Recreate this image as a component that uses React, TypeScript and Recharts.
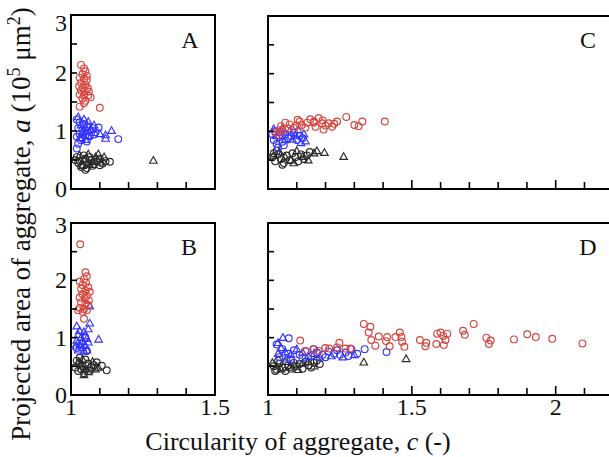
import { ReferenceArea, Scatter, ScatterChart, XAxis, YAxis } from "recharts";

type Pt = [number, number];

// circularity c, projected area a (x10^5 um^2)
const A_RED_CIRC: Pt[] = [
  [1.035, 2.14], [1.045, 2.08], [1.05, 2.03], [1.04, 1.98], [1.055, 1.95],
  [1.03, 1.92], [1.045, 1.9], [1.055, 1.88], [1.035, 1.83], [1.05, 1.8],
  [1.028, 1.77], [1.042, 1.75], [1.058, 1.74], [1.035, 1.7], [1.048, 1.69],
  [1.062, 1.68], [1.03, 1.63], [1.045, 1.62], [1.06, 1.61], [1.068, 1.58],
  [1.04, 1.56], [1.05, 1.52], [1.045, 1.48], [1.03, 1.42], [1.1, 1.4],
];
const A_BLUE_CIRC: Pt[] = [
  [1.02, 1.2], [1.03, 1.15], [1.045, 1.12], [1.06, 1.08], [1.025, 1.05],
  [1.04, 1.02], [1.055, 1.0], [1.07, 0.98], [1.03, 0.95], [1.05, 0.93],
  [1.065, 0.91], [1.02, 0.9], [1.04, 0.88], [1.08, 0.94], [1.035, 0.84],
  [1.055, 0.82], [1.025, 0.78], [1.02, 0.7], [1.096, 1.06], [1.085, 0.98],
  [1.164, 0.86], [1.075, 1.05], [1.045, 0.97],
];
const A_BLUE_TRI: Pt[] = [
  [1.025, 1.24], [1.045, 1.2], [1.06, 1.16], [1.035, 1.1], [1.05, 1.06],
  [1.07, 1.02], [1.04, 0.98], [1.06, 0.92], [1.03, 0.88], [1.05, 0.85],
  [1.141, 1.005], [1.12, 0.93], [1.12, 0.87], [1.1, 0.95], [1.08, 1.1],
];
const A_BLACK_CIRC: Pt[] = [
  [1.02, 0.55], [1.03, 0.48], [1.04, 0.42], [1.05, 0.52], [1.06, 0.45],
  [1.035, 0.38], [1.055, 0.36], [1.07, 0.5], [1.08, 0.43], [1.045, 0.58],
  [1.025, 0.45], [1.09, 0.47], [1.1, 0.52], [1.11, 0.44], [1.12, 0.48],
  [1.135, 0.47], [1.065, 0.55], [1.075, 0.4], [1.015, 0.5], [1.1, 0.41],
  [1.05, 0.33],
];
const A_BLACK_TRI: Pt[] = [
  [1.03, 0.58], [1.045, 0.5], [1.06, 0.6], [1.075, 0.47], [1.085, 0.55],
  [1.095, 0.6], [1.105, 0.46], [1.04, 0.4], [1.065, 0.42], [1.115, 0.55],
  [1.286, 0.49],
];

const B_RED_CIRC: Pt[] = [
  [1.032, 2.63], [1.05, 2.14], [1.055, 2.07], [1.045, 2.02], [1.03, 1.98],
  [1.052, 1.96], [1.04, 1.92], [1.06, 1.88], [1.035, 1.85], [1.05, 1.82],
  [1.065, 1.8], [1.04, 1.76], [1.055, 1.73], [1.03, 1.7], [1.048, 1.68],
  [1.062, 1.65], [1.035, 1.62], [1.05, 1.59], [1.06, 1.56], [1.03, 1.52],
  [1.045, 1.5], [1.025, 1.48], [1.055, 1.48], [1.04, 1.45], [1.045, 1.33],
];
const B_BLUE_CIRC: Pt[] = [[1.03, 0.9], [1.05, 1.0], [1.02, 0.82]];
const B_BLUE_TRI: Pt[] = [
  [1.02, 1.2], [1.065, 1.25], [1.06, 1.15], [1.03, 1.12], [1.045, 1.1],
  [1.025, 1.05], [1.05, 1.03], [1.035, 1.0], [1.055, 0.98], [1.02, 0.95],
  [1.04, 0.93], [1.06, 0.92], [1.03, 0.88], [1.05, 0.86], [1.015, 0.85],
  [1.04, 0.82], [1.025, 0.78], [1.055, 0.78], [1.045, 0.76], [1.096, 0.97],
  [1.065, 1.55],
];
const B_BLACK_CIRC: Pt[] = [
  [1.02, 0.6], [1.03, 0.55], [1.04, 0.5], [1.05, 0.62], [1.035, 0.45],
  [1.025, 0.42], [1.045, 0.38], [1.06, 0.55], [1.07, 0.48], [1.08, 0.52],
  [1.089, 0.57], [1.107, 0.51], [1.124, 0.43], [1.055, 0.77], [1.03, 0.65],
  [1.015, 0.48], [1.065, 0.42],
];
const B_BLACK_TRI: Pt[] = [
  [1.025, 0.57], [1.04, 0.62], [1.05, 0.45], [1.06, 0.4], [1.035, 0.52],
  [1.075, 0.58], [1.085, 0.45], [1.045, 0.35], [1.065, 0.5], [1.095, 0.48],
];

const C_RED_CIRC: Pt[] = [
  [1.045, 1.09], [1.06, 1.15], [1.075, 1.12], [1.089, 1.06], [1.103, 1.2],
  [1.118, 1.11], [1.136, 1.15], [1.147, 1.21], [1.159, 1.15], [1.165, 1.08],
  [1.176, 1.23], [1.188, 1.14], [1.193, 1.03], [1.211, 1.14], [1.223, 1.08],
  [1.24, 1.17], [1.272, 1.25], [1.3, 1.11], [1.315, 1.09], [1.328, 1.17],
  [1.406, 1.17], [1.037, 0.94], [1.05, 1.02], [1.07, 1.05], [1.1, 1.1],
  [1.13, 1.06], [1.16, 1.17], [1.2, 1.1], [1.23, 1.13], [1.19, 1.19],
  [1.11, 1.17], [1.025, 0.98], [1.04, 1.02],
];
const C_BLUE_CIRC: Pt[] = [
  [1.015, 0.95], [1.02, 0.85], [1.03, 0.78], [1.04, 0.9], [1.05, 0.82],
  [1.06, 0.95], [1.07, 0.88], [1.08, 0.92], [1.09, 0.98], [1.1, 0.85],
  [1.11, 0.92], [1.025, 1.0], [1.035, 0.72], [1.055, 0.76], [1.12, 0.88],
];
const C_BLUE_TRI: Pt[] = [
  [1.02, 1.04], [1.03, 0.92], [1.045, 0.98], [1.06, 0.85], [1.075, 1.0],
  [1.085, 0.86], [1.095, 0.93], [1.105, 1.02], [1.115, 0.8], [1.125, 0.95],
  [1.13, 0.83], [1.05, 1.05],
];
const C_BLACK_CIRC: Pt[] = [
  [1.015, 0.55], [1.025, 0.48], [1.035, 0.6], [1.045, 0.52], [1.055, 0.45],
  [1.065, 0.58], [1.075, 0.5], [1.085, 0.62], [1.095, 0.55], [1.105, 0.48],
  [1.115, 0.6], [1.125, 0.52], [1.135, 0.58], [1.05, 0.42], [1.03, 0.66],
  [1.145, 0.64], [1.02, 0.62],
];
const C_BLACK_TRI: Pt[] = [
  [1.02, 0.58], [1.04, 0.64], [1.06, 0.55], [1.08, 0.5], [1.1, 0.66],
  [1.12, 0.56], [1.14, 0.5], [1.16, 0.62], [1.17, 0.66], [1.09, 0.45],
  [1.196, 0.63], [1.263, 0.56],
];

const D_RED_CIRC: Pt[] = [
  [1.112, 0.95], [1.13, 0.77], [1.157, 0.8], [1.176, 0.77], [1.199, 0.82],
  [1.213, 0.81], [1.24, 0.83], [1.248, 0.91], [1.269, 0.81], [1.286, 0.81],
  [1.333, 1.24], [1.356, 1.19], [1.35, 1.09], [1.359, 0.96], [1.373, 0.86],
  [1.385, 1.02], [1.414, 1.01], [1.423, 0.85], [1.41, 0.94], [1.443, 1.01],
  [1.458, 1.09], [1.464, 1.01], [1.466, 0.93], [1.474, 0.84], [1.528, 0.96],
  [1.55, 0.91], [1.547, 0.85], [1.585, 0.89], [1.588, 1.07], [1.6, 1.09],
  [1.609, 1.03], [1.617, 0.96], [1.611, 0.87], [1.623, 1.07], [1.678, 1.12],
  [1.684, 1.05], [1.715, 1.24], [1.759, 1.0], [1.774, 0.95], [1.768, 0.89],
  [1.855, 0.97], [1.901, 1.06], [1.931, 1.01], [1.988, 0.98], [2.093, 0.9],
];
const D_BLUE_CIRC: Pt[] = [
  [1.072, 0.99], [1.03, 0.88], [1.05, 0.8], [1.07, 0.72], [1.09, 0.78],
  [1.11, 0.7], [1.13, 0.76], [1.15, 0.68], [1.17, 0.74], [1.19, 0.7],
  [1.21, 0.76], [1.23, 0.72], [1.25, 0.7], [1.27, 0.74], [1.29, 0.8],
  [1.31, 0.72], [1.336, 0.8], [1.412, 0.75], [1.04, 0.66], [1.08, 0.62],
  [1.12, 0.64], [1.16, 0.8], [1.2, 0.66], [1.24, 0.78], [1.28, 0.68],
];
const D_BLUE_TRI: Pt[] = [
  [1.052, 1.0], [1.035, 0.91], [1.045, 0.82], [1.06, 0.75], [1.08, 0.7],
  [1.1, 0.8], [1.12, 0.74], [1.14, 0.68], [1.16, 0.72], [1.18, 0.66],
  [1.22, 0.68], [1.26, 0.66], [1.3, 0.7], [1.035, 0.72], [1.065, 0.64],
];
const D_BLACK_CIRC: Pt[] = [
  [1.02, 0.5], [1.03, 0.44], [1.04, 0.55], [1.05, 0.48], [1.06, 0.42],
  [1.07, 0.52], [1.08, 0.46], [1.09, 0.56], [1.1, 0.5], [1.11, 0.54],
  [1.12, 0.46], [1.13, 0.58], [1.14, 0.52], [1.15, 0.48], [1.16, 0.56],
  [1.17, 0.6], [1.035, 0.6], [1.025, 0.42], [1.18, 0.54],
];
const D_BLACK_TRI: Pt[] = [
  [1.015, 0.56], [1.03, 0.5], [1.045, 0.45], [1.06, 0.58], [1.075, 0.48],
  [1.09, 0.52], [1.105, 0.44], [1.12, 0.55], [1.14, 0.58], [1.16, 0.5],
  [1.333, 0.57], [1.48, 0.63],
];

const Y_TICKS = [0, 0.5, 1, 1.5, 2, 2.5, 3];
const X_TICKS_NARROW = [1, 1.1, 1.2, 1.3, 1.4, 1.5];
const X_TICKS_WIDE = [1, 1.1, 1.2, 1.3, 1.4, 1.5, 1.6, 1.7, 1.8, 1.9, 2, 2.1, 2.2, 2.3];

const RED = "#d8433c";
const BLUE = "#3434ff";
const BLACK = "#2a2a2a";
const FONT = "'Liberation Serif', 'Times New Roman', serif";

const toRows = (pts: Pt[]) => pts.map(([c, a]) => ({ c, a }));

const isMajor = (v: number) => Math.abs(v * 2 - Math.round(v * 2)) < 1e-6;

function circleShape(color: string) {
  return (p: any) => (
    <circle cx={p.cx} cy={p.cy} r={3.4} fill="none" stroke={color} strokeWidth={1.15} />
  );
}

function triangleShape(color: string) {
  return (p: any) => (
    <path
      d={`M${p.cx},${p.cy - 4}L${p.cx + 3.8},${p.cy + 2.7}L${p.cx - 3.8},${p.cy + 2.7}Z`}
      fill="none"
      stroke={color}
      strokeWidth={1.15}
    />
  );
}

function XTick({ x, y, payload, showLabel }: any) {
  const v = payload?.value as number;
  const major = isMajor(v);
  return (
    <g>
      <line x1={x} x2={x} y1={y} y2={y - (major ? 9 : 7)} stroke="#000" strokeWidth={1.6} />
      {showLabel && major && (
        <text x={x} y={y + 20} textAnchor="middle" fontSize={24} fontFamily={FONT} fill="#111">
          {String(v)}
        </text>
      )}
    </g>
  );
}

function YTick({ x, y, payload, showLabel, topPanel }: any) {
  const v = payload?.value as number;
  const label = Number.isInteger(v);
  const base = v === 3 ? (topPanel ? y + 16 : y + 10) : y + 8;
  return (
    <g>
      <line x1={x} x2={x + 6} y1={y} y2={y} stroke="#000" strokeWidth={1.6} />
      {showLabel && label && (
        <text x={x - 4} y={base} textAnchor="end" fontSize={24} fontFamily={FONT} fill="#111">
          {String(v)}
        </text>
      )}
    </g>
  );
}

interface SeriesDef {
  pts: Pt[];
  color: string;
  tri?: boolean;
}

interface PanelProps {
  left: number;
  top: number;
  width: number;
  height: number;
  marginTop: number;
  marginRight: number;
  yWidth: number;
  xHeight: number;
  xMax: number;
  xTicks: number[];
  series: SeriesDef[];
  showX: boolean;
  showY: boolean;
  topPanel: boolean;
}

function Panel(p: PanelProps) {
  return (
    <div style={{ position: "absolute", left: p.left, top: p.top }}>
      <ScatterChart
        width={p.width}
        height={p.height}
        margin={{ top: p.marginTop, right: p.marginRight, bottom: 0, left: 0 }}
      >
        <XAxis
          type="number"
          dataKey="c"
          domain={[1, p.xMax]}
          ticks={p.xTicks}
          interval={0}
          height={p.xHeight}
          axisLine={false}
          tickLine={false}
          tickSize={0}
          tickMargin={0}
          allowDataOverflow
          tick={<XTick showLabel={p.showX} />}
        />
        <YAxis
          type="number"
          dataKey="a"
          domain={[0, 3]}
          ticks={Y_TICKS}
          interval={0}
          width={p.yWidth}
          axisLine={false}
          tickLine={false}
          tickSize={0}
          tickMargin={0}
          allowDataOverflow
          tick={<YTick showLabel={p.showY} topPanel={p.topPanel} />}
        />
        {p.series.map((s, i) => (
          <Scatter
            key={i}
            data={toRows(s.pts)}
            shape={s.tri ? triangleShape(s.color) : circleShape(s.color)}
            isAnimationActive={false}
          />
        ))}
        <ReferenceArea
          x1={1}
          x2={p.xMax}
          y1={0}
          y2={3}
          fill="none"
          stroke="#000"
          strokeWidth={2}
          ifOverflow="visible"
        />
      </ScatterChart>
    </div>
  );
}

const seriesFor = (
  blackC: Pt[],
  blackT: Pt[],
  blueC: Pt[],
  blueT: Pt[],
  redC: Pt[]
): SeriesDef[] => [
  { pts: blackC, color: BLACK },
  { pts: blackT, color: BLACK, tri: true },
  { pts: blueC, color: BLUE },
  { pts: blueT, color: BLUE, tri: true },
  { pts: redC, color: RED },
];

export default function App() {
  return (
    <div
      style={{
        position: "fixed",
        left: 0,
        top: 0,
        width: 609,
        height: 457,
        overflow: "hidden",
        background: "#fff",
      }}
    >
      <Panel
        left={0} top={0} width={230} height={215} marginTop={15} marginRight={15}
        yWidth={71} xHeight={26} xMax={1.5} xTicks={X_TICKS_NARROW}
        series={seriesFor(A_BLACK_CIRC, A_BLACK_TRI, A_BLUE_CIRC, A_BLUE_TRI, A_RED_CIRC)}
        showX={false} showY topPanel
      />
      <Panel
        left={0} top={200} width={230} height={230} marginTop={23} marginRight={15}
        yWidth={71} xHeight={35} xMax={1.5} xTicks={X_TICKS_NARROW}
        series={seriesFor(B_BLACK_CIRC, B_BLACK_TRI, B_BLUE_CIRC, B_BLUE_TRI, B_RED_CIRC)}
        showX showY topPanel={false}
      />
      <Panel
        left={250} top={0} width={402} height={215} marginTop={16} marginRight={10}
        yWidth={18} xHeight={26} xMax={2.3} xTicks={X_TICKS_WIDE}
        series={seriesFor(C_BLACK_CIRC, C_BLACK_TRI, C_BLUE_CIRC, C_BLUE_TRI, C_RED_CIRC)}
        showX={false} showY={false} topPanel
      />
      <Panel
        left={250} top={200} width={402} height={230} marginTop={23} marginRight={10}
        yWidth={18} xHeight={35} xMax={2.3} xTicks={X_TICKS_WIDE}
        series={seriesFor(D_BLACK_CIRC, D_BLACK_TRI, D_BLUE_CIRC, D_BLUE_TRI, D_RED_CIRC)}
        showX showY={false} topPanel={false}
      />
      <svg
        width={609}
        height={457}
        style={{ position: "absolute", left: 0, top: 0, pointerEvents: "none" }}
        fontFamily={FONT}
        fill="#111"
      >
        <text x={190} y={48} fontSize={24} textAnchor="middle">A</text>
        <text x={189} y={255} fontSize={24} textAnchor="middle">B</text>
        <text x={588} y={48} fontSize={24} textAnchor="middle">C</text>
        <text x={588} y={255} fontSize={24} textAnchor="middle">D</text>
        <text x={298} y={450} fontSize={26} textAnchor="middle">
          Circularity of aggregate, <tspan fontStyle="italic">c</tspan> (-)
        </text>
        <text
          x={30}
          y={224}
          fontSize={27}
          textAnchor="middle"
          transform="rotate(-90, 30, 224)"
        >
          Projected area of aggregate, <tspan fontStyle="italic">a</tspan> (10
          <tspan fontSize={18} dy={-10}>5</tspan>
          <tspan dy={10}> μm</tspan>
          <tspan fontSize={18} dy={-10}>2</tspan>
          <tspan dy={10}>)</tspan>
        </text>
      </svg>
    </div>
  );
}
